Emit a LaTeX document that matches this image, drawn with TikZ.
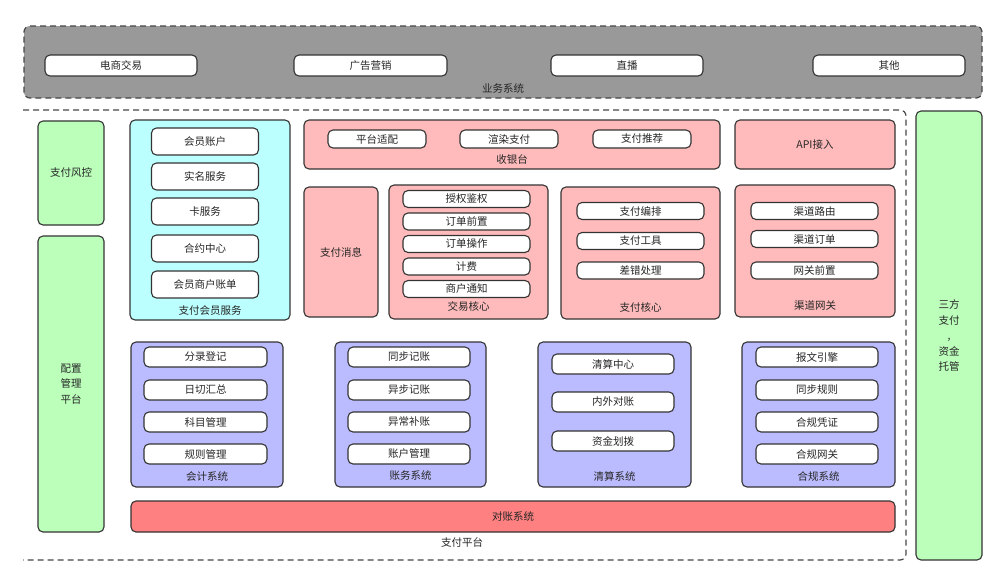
\documentclass[tikz,border=0pt]{standalone}
\usepackage{fontspec}
\setmainfont{Noto Sans CJK SC}
\definecolor{bizgray}{HTML}{999999}
\definecolor{sidegreen}{HTML}{BBFFBB}
\definecolor{membercyan}{HTML}{BBFFFF}
\definecolor{corepink}{HTML}{FFBBBB}
\definecolor{backblue}{HTML}{BBBBFF}
\definecolor{checkred}{HTML}{FF8080}
\definecolor{edge}{HTML}{333333}
\begin{document}
\begin{tikzpicture}[x=1pt, y=-1pt,
    every node/.style={font=\fontsize{10.5}{15.5}\selectfont, text=black!85, inner sep=0pt},
    zone/.style={draw=edge, line width=1.1pt, rounded corners=5pt},
    item/.style={draw=edge, line width=1.1pt, rounded corners=5pt, fill=white},
    dashbox/.style={draw=edge!90, line width=1.2pt, dash pattern=on 6pt off 4pt, rounded corners=6pt}]
\useasboundingbox (0,0) rectangle (985,587);

% business systems
\node[zone, dashbox, fill=bizgray, minimum width=958pt, minimum height=72pt] (biz) at (503,62) {};
\node (bizT) at (503,88) {业务系统};
\node[item, minimum width=152pt, minimum height=21pt] (shop) at (121,65.5) {电商交易};
\node[item, minimum width=153pt, minimum height=21pt] (ads) at (370.5,65.5) {广告营销};
\node[item, minimum width=152pt, minimum height=21pt] (live) at (627,65.5) {直播};
\node[item, minimum width=152pt, minimum height=21pt] (other) at (889,65.5) {其他};

% payment platform frame
\draw[dashbox] (23,110) -| (906,560) -- (23,560);
\node (platT) at (462,542) {支付平台};

% side columns
\node[zone, fill=sidegreen, minimum width=66pt, minimum height=104pt] (risk) at (71,173) {支付风控};
\node[zone, fill=sidegreen, minimum width=66pt, minimum height=296pt, align=center] (conf) at (71,384) {配置\\管理\\平台};
\node[zone, fill=sidegreen, minimum width=66pt, minimum height=449pt, align=center] (third) at (949,335.5) {三方\\支付\\,\\资金\\托管};

% member services
\node[zone, fill=membercyan, minimum width=160pt, minimum height=200pt] (member) at (210,220) {};
\node (memberT) at (210,311) {支付会员服务};
\node[item, minimum width=107pt, minimum height=27pt] (acct) at (205,141.5) {会员账户};
\node[item, minimum width=107pt, minimum height=27pt] (realname) at (205,176.5) {实名服务};
\node[item, minimum width=107pt, minimum height=27pt] (card) at (205,211.5) {卡服务};
\node[item, minimum width=107pt, minimum height=27pt] (contract) at (205,248.5) {合约中心};
\node[item, minimum width=107pt, minimum height=27pt] (bill) at (205,284.5) {会员商户账单};

% cashier
\node[zone, fill=corepink, minimum width=416pt, minimum height=49pt] (cashier) at (512,144.5) {};
\node (cashierT) at (512,159) {收银台};
\node[item, minimum width=98pt, minimum height=18pt] (adapt) at (377,139) {平台适配};
\node[item, minimum width=98pt, minimum height=18pt] (render) at (509,139) {渲染支付};
\node[item, minimum width=98pt, minimum height=18pt] (recom) at (642,139) {支付推荐};
\node[zone, fill=corepink, minimum width=160pt, minimum height=49pt] (api) at (815,144.5) {API接入};

% payment message
\node[zone, fill=corepink, minimum width=74pt, minimum height=130pt] (msg) at (341,252) {支付消息};

% trade core
\node[zone, fill=corepink, minimum width=159pt, minimum height=134pt] (trade) at (468.5,252) {};
\node (tradeT) at (468.5,306) {交易核心};
\node[item, minimum width=127pt, minimum height=17pt] (auth) at (466.5,199) {授权鉴权};
\node[item, minimum width=127pt, minimum height=17pt] (preorder) at (466.5,221.5) {订单前置};
\node[item, minimum width=127pt, minimum height=17pt] (orderop) at (466.5,244) {订单操作};
\node[item, minimum width=127pt, minimum height=17pt] (fee) at (466.5,266.5) {计费};
\node[item, minimum width=127pt, minimum height=17pt] (notify) at (466.5,289) {商户通知};

% pay core
\node[zone, fill=corepink, minimum width=159pt, minimum height=132pt] (paycore) at (640.5,253) {};
\node (paycoreT) at (640.5,307) {支付核心};
\node[item, minimum width=127pt, minimum height=17pt] (arrange) at (640.5,211) {支付编排};
\node[item, minimum width=127pt, minimum height=17pt] (tool) at (640.5,241) {支付工具};
\node[item, minimum width=127pt, minimum height=17pt] (error) at (640.5,270.5) {差错处理};

% channel gateway
\node[zone, fill=corepink, minimum width=160pt, minimum height=132pt] (gate) at (815,251) {};
\node (gateT) at (815,305) {渠道网关};
\node[item, minimum width=127pt, minimum height=17pt] (route) at (814.5,211) {渠道路由};
\node[item, minimum width=127pt, minimum height=17pt] (chorder) at (814.5,239) {渠道订单};
\node[item, minimum width=127pt, minimum height=17pt] (gwpre) at (814.5,270.5) {网关前置};

% accounting
\node[zone, fill=backblue, minimum width=152pt, minimum height=145pt] (acc) at (207,414.5) {};
\node (accT) at (207,476) {会计系统};
\node[item, minimum width=123pt, minimum height=20pt] (entry) at (205.5,357) {分录登记};
\node[item, minimum width=123pt, minimum height=20pt] (daily) at (205.5,390) {日切汇总};
\node[item, minimum width=123pt, minimum height=20pt] (subject) at (205.5,422) {科目管理};
\node[item, minimum width=123pt, minimum height=20pt] (rule) at (205.5,454) {规则管理};

% ledger
\node[zone, fill=backblue, minimum width=151pt, minimum height=145pt] (ledger) at (410.5,414.5) {};
\node (ledgerT) at (410.5,476) {账务系统};
\node[item, minimum width=122pt, minimum height=20pt] (sync) at (409,357) {同步记账};
\node[item, minimum width=122pt, minimum height=20pt] (async) at (409,390) {异步记账};
\node[item, minimum width=122pt, minimum height=20pt] (fix) at (409,422) {异常补账};
\node[item, minimum width=122pt, minimum height=20pt] (manage) at (409,454) {账户管理};

% clearing
\node[zone, fill=backblue, minimum width=153pt, minimum height=145pt] (clear) at (614.5,414.5) {};
\node (clearT) at (614.5,476) {清算系统};
\node[item, minimum width=122pt, minimum height=20pt] (center) at (613,364) {清算中心};
\node[item, minimum width=122pt, minimum height=20pt] (inout) at (613,402) {内外对账};
\node[item, minimum width=122pt, minimum height=20pt] (fund) at (613,441) {资金划拨};

% compliance
\node[zone, fill=backblue, minimum width=153pt, minimum height=145pt] (comp) at (818.5,414.5) {};
\node (compT) at (818.5,476) {合规系统};
\node[item, minimum width=122pt, minimum height=20pt] (msgeng) at (817,357) {报文引擎};
\node[item, minimum width=122pt, minimum height=20pt] (syncrule) at (817,390) {同步规则};
\node[item, minimum width=122pt, minimum height=20pt] (voucher) at (817,422) {合规凭证};
\node[item, minimum width=122pt, minimum height=20pt] (compgw) at (817,454) {合规网关};

% reconciliation
\node[zone, fill=checkred, minimum width=764pt, minimum height=31pt] (recon) at (513,516.5) {对账系统};

\end{tikzpicture}
\end{document}
